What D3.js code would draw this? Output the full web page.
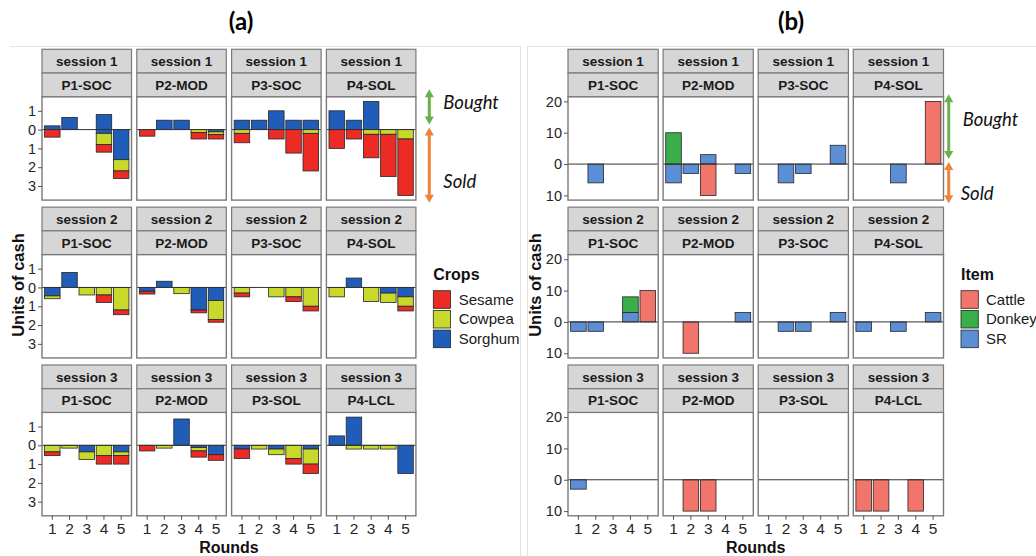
<!DOCTYPE html>
<html>
<head>
<meta charset="utf-8">
<script src="https://cdn.jsdelivr.net/npm/d3@7"></script>
<style>
  html, body { margin: 0; padding: 0; background: #fff; }
  svg { display: block; }
</style>
</head>
<body>
<svg id="chart" width="1036" height="556"></svg>
<script>
// ---- categories ----
const sessions = ["session 1", "session 2", "session 3"];
const playersBySession = [
  ["P1-SOC", "P2-MOD", "P3-SOC", "P4-SOL"],
  ["P1-SOC", "P2-MOD", "P3-SOC", "P4-SOL"],
  ["P1-SOC", "P2-MOD", "P3-SOL", "P4-LCL"]
];
const rounds = ["1", "2", "3", "4", "5"];
const crops = ["Sesame", "Cowpea", "Sorghum"];
const cropColors = ["#EC2B25", "#C8D92B", "#1F5DB9"];
const items = ["Cattle", "Donkey", "SR"];
const itemColors = ["#F2756B", "#39AE49", "#5B8ED4"];
const tickValuesA = [-3, -2, -1, 0, 1];
const tickValuesB = [-10, 0, 10, 20];

// ---- (a) crops traded, units of cash per round (rows: facets s1P1..s3P4) ----
const sorghumBought = [
  [0.2, 0.65, 0, 0.8, 0], [0, 0.5, 0.5, 0, 0], [0.5, 0.5, 1.0, 0.5, 0.5], [1.0, 0.5, 1.5, 0, 0],
  [0, 0.8, 0, 0, 0], [0, 0.33, 0, 0, 0], [0, 0, 0, 0, 0], [0, 0.5, 0, 0, 0],
  [0, 0, 0, 0, 0], [0, 0, 1.4, 0, 0], [0, 0, 0, 0, 0], [0.5, 1.5, 0, 0, 0]
];
const sorghumSold = [
  [0, 0, 0, 0.2, 1.6], [0, 0, 0, 0, 0.12], [0, 0, 0, 0, 0], [0, 0, 0, 0, 0],
  [0.45, 0, 0, 0, 0], [0.2, 0, 0, 1.2, 0.7], [0, 0, 0, 0, 0], [0, 0, 0, 0.3, 0.5],
  [0, 0, 0.35, 0, 0.35], [0, 0, 0, 0.12, 0.5], [0.2, 0, 0.2, 0, 0.2], [0, 0, 0, 0, 1.5]
];
const cowpeaSold = [
  [0, 0, 0, 0.6, 0.6], [0, 0, 0, 0.15, 0.15], [0.2, 0, 0, 0, 0.2], [0, 0, 0.25, 0.25, 0.5],
  [0.15, 0, 0.4, 0.4, 1.2], [0, 0, 0.33, 0, 1.0], [0.3, 0, 0.5, 0.5, 1.0], [0.5, 0, 0.75, 0.5, 0.5],
  [0.35, 0.15, 0.4, 0.55, 0.2], [0, 0.15, 0, 0.18, 0], [0, 0.2, 0.3, 0.7, 0.8], [0, 0.2, 0.2, 0.2, 0]
];
const sesameSold = [
  [0.4, 0, 0, 0.4, 0.4], [0.35, 0, 0, 0.35, 0.23], [0.5, 0, 0.5, 1.25, 2.0], [1.0, 0.5, 1.25, 2.25, 3.0],
  [0, 0, 0, 0.4, 0.25], [0.15, 0, 0, 0.15, 0.15], [0.2, 0, 0, 0.25, 0.25], [0, 0, 0, 0, 0.25],
  [0.2, 0, 0, 0.45, 0.45], [0.3, 0, 0, 0.33, 0.3], [0.5, 0, 0, 0.3, 0.5], [0, 0, 0, 0, 0]
];

// ---- (b) livestock traded, signed units of cash (bought > 0, sold < 0) ----
const srTrade = [
  [0, -6, 0, 0, 0], [-6, -3, 3, 0, -3], [0, -6, -3, 0, 6], [0, 0, -6, 0, 0],
  [-3, -3, 0, 3, 0], [0, 0, 0, 0, 3], [0, -3, -3, 0, 3], [-3, 0, -3, 0, 3],
  [-3, 0, 0, 0, 0], [0, 0, 0, 0, 0], [0, 0, 0, 0, 0], [0, 0, 0, 0, 0]
];
const donkeyTrade = [
  [0, 0, 0, 0, 0], [10, 0, 0, 0, 0], [0, 0, 0, 0, 0], [0, 0, 0, 0, 0],
  [0, 0, 0, 5, 0], [0, 0, 0, 0, 0], [0, 0, 0, 0, 0], [0, 0, 0, 0, 0],
  [0, 0, 0, 0, 0], [0, 0, 0, 0, 0], [0, 0, 0, 0, 0], [0, 0, 0, 0, 0]
];
const cattleTrade = [
  [0, 0, 0, 0, 0], [0, 0, -10, 0, 0], [0, 0, 0, 0, 0], [0, 0, 0, 0, 20],
  [0, 0, 0, 0, 10], [0, -10, 0, 0, 0], [0, 0, 0, 0, 0], [0, 0, 0, 0, 0],
  [0, 0, 0, 0, 0], [0, -10, -10, 0, 0], [0, 0, 0, 0, 0], [-10, -10, 0, -10, 0]
];

// ---- layout ----
const FONT = "'Liberation Sans', Arial, sans-serif";
const ROW_TOP = 49.3, ROW_STEP = 157.85, STRIP_H = 23.7, PANEL_H = 103.4;
const BORDER = "#7a7a7a";

const svg = d3.select("#chart");
svg.append("rect").attr("width", 1036).attr("height", 556).attr("fill", "#fff");

// faint frames around the two figure halves
const frame = svg.append("g").attr("stroke", "#e4e4e4").attr("stroke-width", 1);
frame.append("line").attr("x1", 10).attr("x2", 520).attr("y1", 46.5).attr("y2", 46.5);
frame.append("line").attr("x1", 520.5).attr("x2", 520.5).attr("y1", 46).attr("y2", 556);
frame.append("line").attr("x1", 527).attr("x2", 1036).attr("y1", 46.5).attr("y2", 46.5);
frame.append("line").attr("x1", 527.5).attr("x2", 527.5).attr("y1", 46).attr("y2", 556);

function drawFacetGrid(cfg) {
  const g = svg.append("g");
  const keys = cfg.series.map(d => d.key);
  const stack = d3.stack().keys(keys).offset(d3.stackOffsetDiverging);

  sessions.forEach((sess, s) => {
    playersBySession[s].forEach((player, p) => {
      const idx = s * 4 + p;
      const left = cfg.left + p * (cfg.colW + cfg.gap);
      const top = ROW_TOP + s * ROW_STEP;
      const pTop = top + 2 * STRIP_H;
      const x = d3.scaleBand().domain(rounds).range([left, left + cfg.colW])
        .paddingInner(0.1).paddingOuter(0.15);
      const y = d3.scaleLinear().domain(cfg.yDomain).range([pTop + PANEL_H, pTop]);

      g.append("rect").attr("x", left).attr("y", pTop)
        .attr("width", cfg.colW).attr("height", PANEL_H).attr("fill", "#fff");

      const rows = rounds.map((r, i) => {
        const o = { round: r };
        cfg.series.forEach(sr => { o[sr.key] = sr.sign * sr.values[idx][i]; });
        return o;
      });
      stack(rows).forEach((layer, li) => {
        g.selectAll(null)
          .data(layer.filter(d => d[1] !== d[0]))
          .enter().append("rect")
          .attr("x", d => x(d.data.round))
          .attr("width", x.bandwidth())
          .attr("y", d => y(Math.max(d[0], d[1])))
          .attr("height", d => Math.abs(y(d[0]) - y(d[1])))
          .attr("fill", cfg.series[li].color)
          .attr("stroke", "#262626")
          .attr("stroke-width", 0.8);
      });

      // zero reference line
      g.append("line").attr("x1", left).attr("x2", left + cfg.colW)
        .attr("y1", y(0)).attr("y2", y(0))
        .attr("stroke", "#333").attr("stroke-width", 1);

      // panel border
      g.append("rect").attr("x", left).attr("y", pTop)
        .attr("width", cfg.colW).attr("height", PANEL_H)
        .attr("fill", "none").attr("stroke", BORDER).attr("stroke-width", 1.4);

      // strips
      [sess, player].forEach((label, k) => {
        const sy = top + k * STRIP_H;
        g.append("rect").attr("x", left).attr("y", sy)
          .attr("width", cfg.colW).attr("height", STRIP_H)
          .attr("fill", "#D6D6D6").attr("stroke", BORDER).attr("stroke-width", 1.2);
        g.append("text").attr("x", left + cfg.colW / 2).attr("y", sy + STRIP_H / 2 + 4.8)
          .attr("text-anchor", "middle").attr("font-family", FONT)
          .attr("font-weight", "bold").attr("font-size", 13.5).attr("fill", "#1a1a1a")
          .text(label);
      });

      // y axis on first column
      if (p === 0) {
        const ya = g.append("g").attr("transform", `translate(${left},0)`)
          .call(d3.axisLeft(y).tickValues(cfg.yTicks).tickFormat(d => Math.abs(d))
            .tickSize(4).tickPadding(2));
        ya.select(".domain").remove();
        ya.selectAll("line").attr("stroke", "#555");
        ya.selectAll("text").attr("font-family", FONT).attr("font-size", 14.5).attr("fill", "#262626");
      }
      // x axis on the bottom row
      if (s === 2) {
        const xa = g.append("g").attr("transform", `translate(0,${pTop + PANEL_H})`)
          .call(d3.axisBottom(x).tickSize(4).tickPadding(3));
        xa.select(".domain").remove();
        xa.selectAll("line").attr("stroke", "#555");
        xa.selectAll("text").attr("font-family", FONT).attr("font-size", 15.5).attr("fill", "#262626");
      }
    });
  });

  const gridRight = cfg.left + 4 * cfg.colW + 3 * cfg.gap;
  // axis titles
  g.append("text").attr("x", (cfg.left + gridRight) / 2).attr("y", 552.5)
    .attr("text-anchor", "middle").attr("font-family", FONT)
    .attr("font-weight", "bold").attr("font-size", 16).attr("fill", "#111")
    .text("Rounds");
  g.append("text").attr("transform", `translate(${cfg.yTitleX},285) rotate(-90)`)
    .attr("text-anchor", "middle").attr("font-family", FONT)
    .attr("font-weight", "bold").attr("font-size", 16.5).attr("fill", "#111")
    .text("Units of cash");

  // figure letter
  g.append("text").attr("x", cfg.letterX).attr("y", 30)
    .attr("text-anchor", "middle").attr("font-family", "Lato, 'Open Sans', sans-serif")
    .attr("font-weight", "bold").attr("font-size", 24).attr("fill", "#000")
    .text(cfg.letter);

  // legend
  const lg = g.append("g").attr("transform", `translate(${cfg.legendX},0)`);
  lg.append("text").attr("x", 0).attr("y", 280)
    .attr("font-family", FONT).attr("font-weight", "bold").attr("font-size", 16).attr("fill", "#111")
    .text(cfg.legendTitle);
  cfg.legendLabels.forEach((lab, i) => {
    const ky = 290.7 + i * 19.7;
    lg.append("rect").attr("x", 0).attr("y", ky).attr("width", 17.3).attr("height", 17.6)
      .attr("fill", cfg.legendColors[i]).attr("stroke", "#262626").attr("stroke-width", 0.8);
    lg.append("text").attr("x", cfg.legendTextDx).attr("y", ky + 14)
      .attr("font-family", FONT).attr("font-size", 15).attr("fill", "#1a1a1a")
      .text(lab);
  });

  // bought / sold guides
  const zeroY = d3.scaleLinear().domain(cfg.yDomain).range([ROW_TOP + 2 * STRIP_H + PANEL_H, ROW_TOP + 2 * STRIP_H])(0);
  doubleArrow(g, cfg.arrowX, cfg.boughtTop, zeroY - 5, "#6AB04C");
  doubleArrow(g, cfg.arrowX, zeroY - 2, cfg.soldBottom, "#EE8438");
  g.append("text").attr("x", cfg.arrowX + 14).attr("y", cfg.boughtTextY)
    .attr("font-family", "Lato, 'Open Sans', sans-serif").attr("font-style", "italic")
    .attr("font-size", 18.5).attr("fill", "#111").text("Bought");
  g.append("text").attr("x", cfg.arrowX + cfg.soldTextDx).attr("y", cfg.soldTextY)
    .attr("font-family", "Lato, 'Open Sans', sans-serif").attr("font-style", "italic")
    .attr("font-size", 18.5).attr("fill", "#111").text("Sold");
}

function doubleArrow(g, x, y1, y2, color) {
  const hl = 8, hw = 4.6;
  g.append("line").attr("x1", x).attr("x2", x).attr("y1", y1 + hl - 1).attr("y2", y2 - hl + 1)
    .attr("stroke", color).attr("stroke-width", 3);
  g.append("path").attr("d", `M${x},${y1} L${x - hw},${y1 + hl} L${x + hw},${y1 + hl} Z`).attr("fill", color);
  g.append("path").attr("d", `M${x},${y2} L${x - hw},${y2 - hl} L${x + hw},${y2 - hl} Z`).attr("fill", color);
}

drawFacetGrid({
  left: 42, colW: 89.5, gap: 5.3,
  yDomain: [-3.75, 1.75], yTicks: tickValuesA,
  series: [
    { key: "sorghumBought", values: sorghumBought, sign: 1, color: cropColors[2] },
    { key: "sorghumSold", values: sorghumSold, sign: -1, color: cropColors[2] },
    { key: "cowpeaSold", values: cowpeaSold, sign: -1, color: cropColors[1] },
    { key: "sesameSold", values: sesameSold, sign: -1, color: cropColors[0] }
  ],
  yTitleX: 24, letter: "(a)", letterX: 241,
  legendX: 433.3, legendTitle: "Crops", legendLabels: crops, legendColors: cropColors, legendTextDx: 25.4,
  arrowX: 429.3, boughtTop: 89.3, soldBottom: 202.7,
  boughtTextY: 109, soldTextY: 188, soldTextDx: 14
});

drawFacetGrid({
  left: 568, colW: 90.2, gap: 4.9,
  yDomain: [-11.5, 21.5], yTicks: tickValuesB,
  series: [
    { key: "SR", values: srTrade, sign: 1, color: itemColors[2] },
    { key: "Donkey", values: donkeyTrade, sign: 1, color: itemColors[1] },
    { key: "Cattle", values: cattleTrade, sign: 1, color: itemColors[0] }
  ],
  yTitleX: 541, letter: "(b)", letterX: 791,
  legendX: 961, legendTitle: "Item", legendLabels: items, legendColors: itemColors, legendTextDx: 25,
  arrowX: 948.7, boughtTop: 94.3, soldBottom: 203.3,
  boughtTextY: 126, soldTextY: 200, soldTextDx: 12
});
</script>
</body>
</html>
